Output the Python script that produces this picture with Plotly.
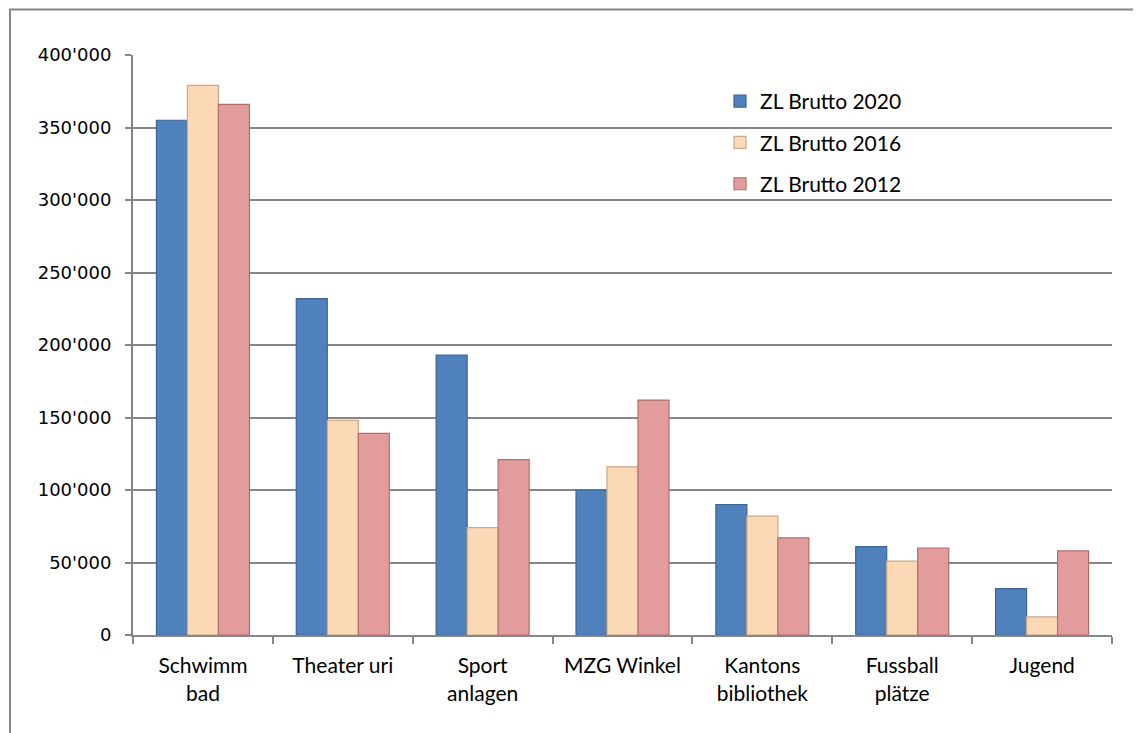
import plotly.graph_objects as go

categories = ["Schwimm<br>bad", "Theater uri", "Sport<br>anlagen", "MZG Winkel",
              "Kantons<br>bibliothek", "Fussball<br>plätze", "Jugend"]
zl_2020 = [355000, 232000, 193000, 100000, 90000, 61000, 32000]
zl_2016 = [379000, 148000, 74000, 116000, 82000, 51000, 12500]
zl_2012 = [366000, 139000, 121000, 162000, 67000, 60000, 58000]
y_ticks = [0, 50000, 100000, 150000, 200000, 250000, 300000, 350000, 400000]

series = [
    ("ZL Brutto 2020", zl_2020, "#4F81BD", "#3B6595"),
    ("ZL Brutto 2016", zl_2016, "#FBD9B7", "#CBA886"),
    ("ZL Brutto 2012", zl_2012, "#E39C9C", "#B06E6E"),
]

fig = go.Figure()
for i, (name, vals, col, lc) in enumerate(series):
    fig.add_trace(go.Bar(
        x=categories, y=vals, name=name, legendgroup=f"g{i}",
        marker=dict(color=col, line=dict(color=lc, width=1.2)),
    ))

OFF = 8  # page body margin offset
W, H = 1141 - OFF, 733 - OFF
# target screen coordinates of the plot area
sx0, sx1, sy0, sy1 = 133, 1112, 55, 635
ml, mr, mt, mb = sx0 - OFF, W - (sx1 - OFF), sy0 - OFF, H - (sy1 - OFF)
pw, ph = W - ml - mr, H - mt - mb

def px(x):
    return (x - OFF - ml) / pw

def py(y):
    return (H - mb - (y - OFF)) / ph

LAB = "Lato, Open Sans, sans-serif"

fig.update_layout(
    width=W, height=H,
    margin=dict(l=ml, r=mr, t=mt, b=mb),
    paper_bgcolor="white", plot_bgcolor="white",
    barmode="group", bargap=0.335, bargroupgap=0.0,
    separators=".'",
    font=dict(family=LAB, size=20, color="black"),
    showlegend=True,
    legend=dict(x=px(720), y=py(81), xanchor="left", yanchor="top",
                font=dict(family=LAB, size=21),
                tracegroupgap=11, bgcolor="rgba(0,0,0,0)", itemwidth=30),
    xaxis=dict(type="category", showline=True, linecolor="#868686", linewidth=2,
               ticks="outside", tickson="boundaries", ticklen=7, tickcolor="#868686",
               tickwidth=2, showgrid=False, ticklabelstandoff=11,
               tickfont=dict(family=LAB, size=21)),
    yaxis=dict(range=[0, 400000], tickvals=y_ticks, tickformat=",d",
               showline=True, linecolor="#868686", linewidth=2,
               ticks="outside", ticklen=6, tickcolor="#868686", tickwidth=2,
               showgrid=True, gridcolor="#868686", gridwidth=1.5, zeroline=False,
               ticklabelstandoff=10,
               tickfont=dict(family="DejaVu Sans, sans-serif", size=18)),
    shapes=[
        dict(type="rect", xref="paper", yref="paper",
             x0=px(10), x1=px(1141 + 20), y0=py(733 + 20), y1=py(9.5),
             line=dict(color="#868686", width=2), fillcolor="rgba(0,0,0,0)", layer="below"),
    ],
)

fig.write_html("out.html")
